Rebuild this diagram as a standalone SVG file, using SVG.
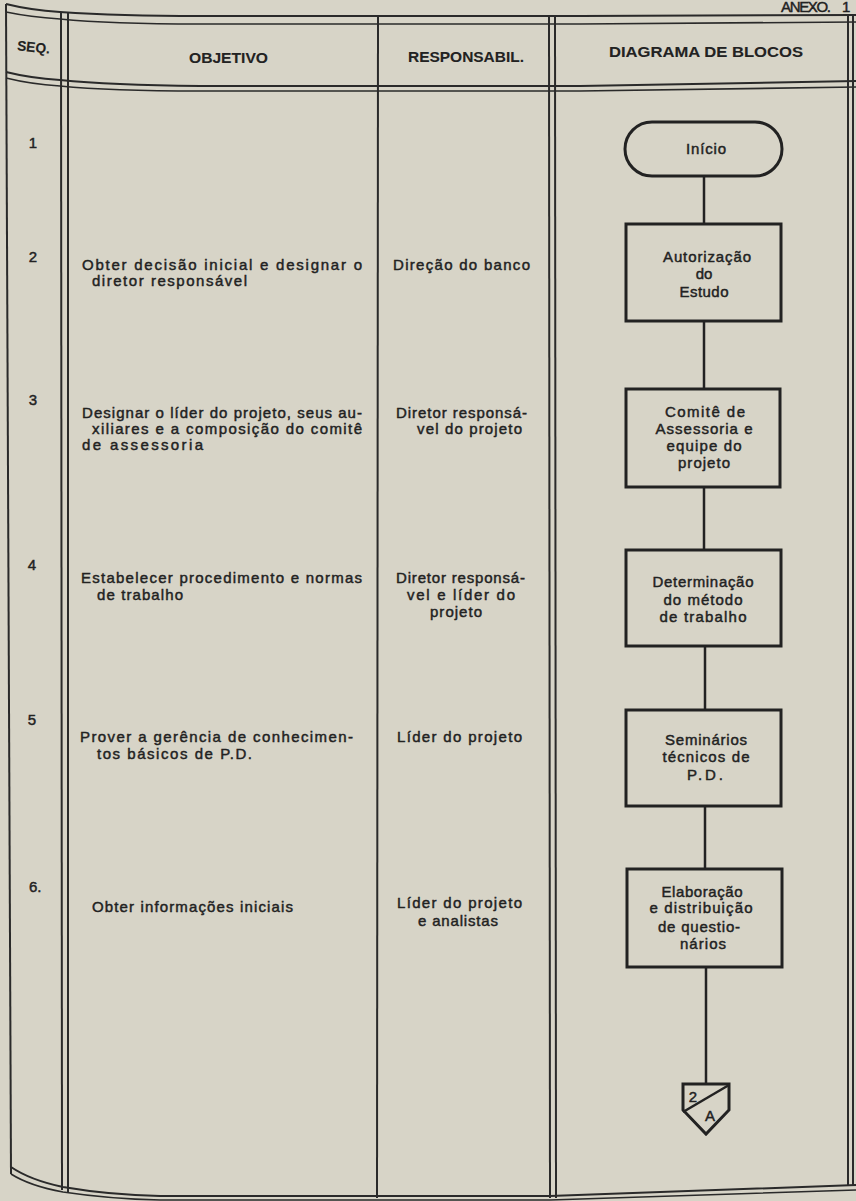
<svg xmlns="http://www.w3.org/2000/svg" width="856" height="1201" viewBox="0 0 856 1201">
<style>
.t{font-family:"Liberation Sans",Arial,sans-serif;font-size:15px;fill:#222;stroke:#222;stroke-width:0.45}
.h{font-weight:bold;font-size:14px;stroke-width:0.1}
.c{text-anchor:middle}
.fr{fill:none;stroke:#2a2a2a;stroke-width:2}
.fr2{fill:none;stroke:#2a2a2a;stroke-width:1.6}
.shape{fill:none;stroke:#222;stroke-width:3}
.link{stroke:#222;stroke-width:2.5;fill:none}
</style>
<rect width="856" height="1201" fill="#d7d4c7"/>
<g id="frame">
<path class="fr" d="M6,4 Q30,10 60,12 Q120,16 200,16 L580,16 L856,15"/>
<path class="fr2" d="M6,12 Q30,17 60,19 Q110,24 200,24 L580,24 L856,22"/>
<path class="fr" d="M6,72 Q30,78 60,80 Q110,85 200,86 L580,86 L856,81"/>
<path class="fr2" d="M6,78 Q30,84 60,86 Q110,91 200,91 L580,91 L856,87"/>
<path class="fr" d="M11,1167 Q30,1180 63,1187 Q110,1195 160,1196 L550,1196 L856,1185"/>
<path class="fr2" d="M11,1174 Q30,1186 63,1192 Q110,1199 160,1200 L550,1200 L856,1190"/>
<line class="fr" x1="6" y1="4" x2="11" y2="1174"/>
<line class="fr" x1="61" y1="12" x2="62" y2="1190"/>
<line class="fr" x1="68" y1="12" x2="68" y2="1192"/>
<line class="fr" x1="378" y1="16" x2="377" y2="1198"/>
<line class="fr" x1="549" y1="16" x2="550" y2="1198"/>
<line class="fr" x1="555" y1="16" x2="556" y2="1198"/>
<line class="fr" x1="848" y1="15" x2="848" y2="1186"/>
<line class="fr" x1="853" y1="15" x2="853" y2="1186"/>
</g>
<g id="annex">
<text class="t" x="781" y="12" font-size="11" stroke-width="0.2" textLength="50" lengthAdjust="spacing">ANEXO.</text>
<text class="t" x="842" y="12" font-size="11" stroke-width="0.2">1</text>
</g>
<g id="header">
<text class="t h" x="17" y="52" font-size="13" textLength="33" lengthAdjust="spacingAndGlyphs" transform="rotate(6 33 48)">SEQ.</text>
<text class="t h" x="189" y="63" textLength="79" lengthAdjust="spacingAndGlyphs">OBJETIVO</text>
<text class="t h" x="408" y="62" textLength="116" lengthAdjust="spacingAndGlyphs">RESPONSABIL.</text>
<text class="t h" x="609" y="57" textLength="194" lengthAdjust="spacingAndGlyphs">DIAGRAMA DE BLOCOS</text>
</g>
<g id="row1">
<text class="t c" x="33" y="148">1</text>
</g>
<g id="row2">
<text class="t c" x="33" y="262">2</text>
<text class="t" x="82" y="270" textLength="280" lengthAdjust="spacing">Obter decisão inicial e designar o</text>
<text class="t" x="92" y="286" textLength="155" lengthAdjust="spacing">diretor responsável</text>
<text class="t" x="393" y="270" textLength="137" lengthAdjust="spacing">Direção do banco</text>
</g>
<g id="row3">
<text class="t c" x="33" y="405">3</text>
<text class="t" x="82" y="418" textLength="280" lengthAdjust="spacing">Designar o líder do projeto, seus au-</text>
<text class="t" x="92" y="434" textLength="270" lengthAdjust="spacing">xiliares e a composição do comitê</text>
<text class="t" x="82" y="450" textLength="121" lengthAdjust="spacing">de assessoria</text>
<text class="t" x="396" y="418" textLength="131" lengthAdjust="spacing">Diretor responsá-</text>
<text class="t" x="417" y="434" textLength="105" lengthAdjust="spacing">vel do projeto</text>
</g>
<g id="row4">
<text class="t c" x="32" y="570">4</text>
<text class="t" x="81" y="583" textLength="281" lengthAdjust="spacing">Estabelecer procedimento e normas</text>
<text class="t" x="97" y="600" textLength="86" lengthAdjust="spacing">de trabalho</text>
<text class="t" x="396" y="583" textLength="129" lengthAdjust="spacing">Diretor responsá-</text>
<text class="t" x="407" y="600" textLength="108" lengthAdjust="spacing">vel e líder do</text>
<text class="t" x="430" y="617" textLength="52" lengthAdjust="spacing">projeto</text>
</g>
<g id="row5">
<text class="t c" x="32" y="725">5</text>
<text class="t" x="80" y="742" textLength="273" lengthAdjust="spacing">Prover a gerência de conhecimen-</text>
<text class="t" x="97" y="759" textLength="155" lengthAdjust="spacing">tos básicos de P.D.</text>
<text class="t" x="397" y="742" textLength="125" lengthAdjust="spacing">Líder do projeto</text>
</g>
<g id="row6">
<text class="t" x="29" y="892">6.</text>
<text class="t" x="92" y="912" textLength="201" lengthAdjust="spacing">Obter informações iniciais</text>
<text class="t" x="397" y="908" textLength="125" lengthAdjust="spacing">Líder do projeto</text>
<text class="t" x="418" y="926" textLength="80" lengthAdjust="spacing">e analistas</text>
</g>
<g id="connectors">
<line class="link" x1="704" y1="176" x2="704" y2="224"/>
<line class="link" x1="704" y1="321" x2="704" y2="389"/>
<line class="link" x1="704" y1="487" x2="704" y2="550"/>
<line class="link" x1="705" y1="646" x2="705" y2="710"/>
<line class="link" x1="705" y1="806" x2="705" y2="869"/>
<line class="link" x1="706" y1="967" x2="706" y2="1084"/>
</g>
<g id="inicio">
<rect class="shape" x="625" y="122" width="157" height="54" rx="27" ry="27"/>
<text class="t c" x="706" y="154" textLength="40" lengthAdjust="spacing">Início</text>
</g>
<g id="autorizacao">
<rect class="shape" x="626" y="224" width="155" height="97"/>
<text class="t c" x="707" y="262" textLength="88" lengthAdjust="spacing">Autorização</text>
<text class="t c" x="704" y="279">do</text>
<text class="t c" x="704" y="297" textLength="49" lengthAdjust="spacing">Estudo</text>
</g>
<g id="comite">
<rect class="shape" x="626" y="389" width="154" height="98"/>
<text class="t c" x="705" y="417" textLength="80" lengthAdjust="spacing">Comitê de</text>
<text class="t c" x="704" y="434" textLength="97" lengthAdjust="spacing">Assessoria e</text>
<text class="t c" x="704" y="451" textLength="75" lengthAdjust="spacing">equipe do</text>
<text class="t c" x="704" y="468" textLength="52" lengthAdjust="spacing">projeto</text>
</g>
<g id="determinacao">
<rect class="shape" x="626" y="550" width="155" height="96"/>
<text class="t c" x="703" y="587" textLength="101" lengthAdjust="spacing">Determinação</text>
<text class="t c" x="703" y="605" textLength="79" lengthAdjust="spacing">do método</text>
<text class="t c" x="703" y="622" textLength="87" lengthAdjust="spacing">de trabalho</text>
</g>
<g id="seminarios">
<rect class="shape" x="626" y="710" width="155" height="96"/>
<text class="t c" x="706" y="745" textLength="82" lengthAdjust="spacing">Seminários</text>
<text class="t c" x="706" y="762" textLength="87" lengthAdjust="spacing">técnicos de</text>
<text class="t c" x="705" y="780" textLength="36" lengthAdjust="spacing">P.D.</text>
</g>
<g id="elaboracao">
<rect class="shape" x="627" y="869" width="155" height="98"/>
<text class="t c" x="702" y="897" textLength="81" lengthAdjust="spacing">Elaboração</text>
<text class="t c" x="701" y="913" textLength="103" lengthAdjust="spacing">e distribuição</text>
<text class="t c" x="699" y="932" textLength="82" lengthAdjust="spacing">de questio-</text>
<text class="t c" x="703" y="949" textLength="46" lengthAdjust="spacing">nários</text>
</g>
<g id="offpage">
<path class="shape" d="M683,1084 L729,1084 L729,1110 L706,1134 L683,1110 Z" stroke-width="2.5"/>
<line class="link" x1="683" y1="1112" x2="729" y2="1085" stroke-width="2"/>
<text class="t c" x="693" y="1102" font-size="13">2</text>
<text class="t c" x="710" y="1121" font-size="13">A</text>
</g>
</svg>
